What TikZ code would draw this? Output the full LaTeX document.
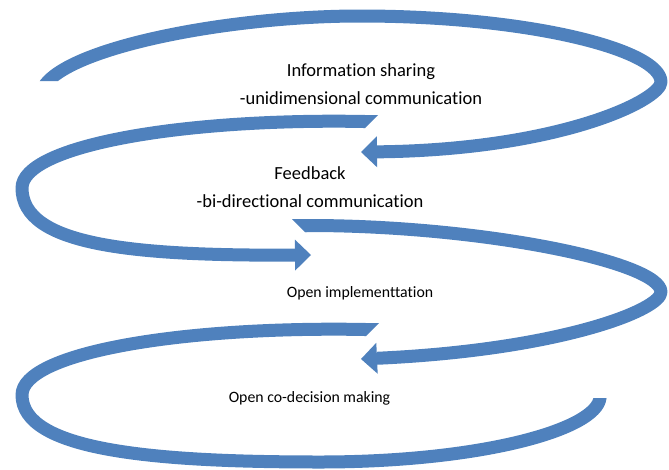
\documentclass[tikz,border=0pt]{standalone}
\usepackage{fontspec}
\setmainfont{Carlito}[Ligatures=NoCommon]
\usetikzlibrary{arrows.meta}
\definecolor{spiral}{RGB}{79,129,189}
\tikzset{l/.style={font=\fontsize{18.5}{18.5}\selectfont}}
\tikzset{m/.style={font=\fontsize{15.8}{15.8}\selectfont}}
\tikzset{b/.style={draw=spiral,line width=13pt,line cap=butt}}
\tikzset{h/.style={-{Triangle[length=16pt,width=31pt,line width=0pt]}}}

\begin{document}
\begin{tikzpicture}[x=1pt,y=-1pt,line join=round]
            \useasboundingbox (0,0) rectangle (669,469);
            \begin{scope}
              \clip (0,0)--(669,0)--(669,200)--(150,200)--(150,81)--(0,81)--cycle;
              \draw[b,h] (43.5,87) .. controls (68,47) and (230,16) .. (360,16)
                .. controls (530,16) and (661,50) .. (661,82)
                .. controls (661,100) and (560,150) .. (361,152);
            \end{scope}
            \draw[b,h] (365,121.5) .. controls (180,118) and (22,146) .. (22,188)
              .. controls (22,245) and (130,256) .. (311,255);
            \fill[spiral] (363,115)--(378,115)--(365,128)--(363,128)--cycle;
            \draw[b,h] (305,225.5) .. controls (480,225) and (661,262) .. (661,292)
              .. controls (661,310) and (560,350) .. (361,359);
            \fill[spiral] (292,219)--(307,219)--(307,232)--(305,232)--cycle;
            \begin{scope}
              \clip (0,300)--(560,300)--(560,398)--(669,398)--(669,469)--(0,469)--cycle;
              \draw[b] (366,329.5) .. controls (180,326) and (22,353) .. (22,395)
                .. controls (22,450) and (150,462) .. (320,462)
                .. controls (480,462) and (596,430) .. (600,398) -- (601.2,388);
            \end{scope}
            \fill[spiral] (364,323)--(379,323)--(366,336)--(364,336)--cycle;
            \node[l,anchor=base] (I) at (361,76) {Information sharing};
            \node[l,anchor=base] (U) at (361,104) {-unidimensional communication};
            \node[l,anchor=base] (F) at (310,179) {Feedback};
            \node[l,anchor=base] (D) at (310,207) {-bi-directional communication};
            \node[m,anchor=base] (O) at (360,297) {Open implementtation};
            \node[m,anchor=base] (C) at (309.5,402) {Open co-decision making};
\end{tikzpicture}
\end{document}
